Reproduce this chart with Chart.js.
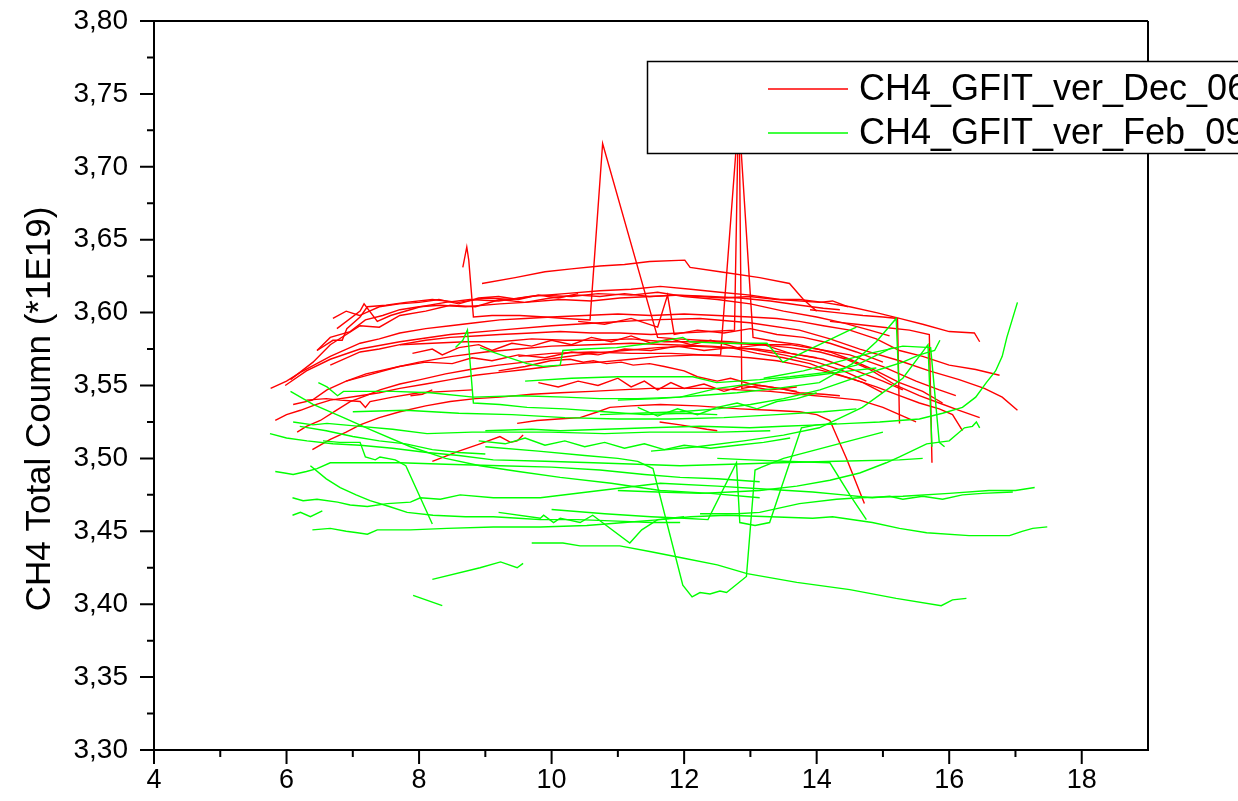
<!DOCTYPE html>
<html><head><meta charset="utf-8">
<script src="https://cdn.jsdelivr.net/npm/chart.js@4/dist/chart.umd.min.js"></script>
<style>html,body{margin:0;padding:0;background:#fff;overflow:hidden}canvas{display:block}</style>
</head><body>
<canvas id="c" width="1238" height="801"></canvas>
<script>
// ---- axis ticks ----
const xTicks = [4, 6, 8, 10, 12, 14, 16, 18];
const xMinorTicks = [5, 7, 9, 11, 13, 15, 17];
const yTicks = [3.30, 3.35, 3.40, 3.45, 3.50, 3.55, 3.60, 3.65, 3.70, 3.75, 3.80];
const yMinorTicks = [3.325, 3.375, 3.425, 3.475, 3.525, 3.575, 3.625, 3.675, 3.725, 3.775];
const yAxisTitle = 'CH4 Total Coumn (*1E19)';
const seriesNames = ['CH4_GFIT_ver_Dec_06', 'CH4_GFIT_ver_Feb_09'];
const seriesColors = ['#ff0000', '#00ff00'];

// ---- CH4_GFIT_ver_Dec_06 daily series: [hour, column] ----
const dec01 = [[8.95,3.620],[9.45,3.624],[9.90,3.628],[10.30,3.630],[10.73,3.632],[11.10,3.633],[11.48,3.635],[12.01,3.636],[12.09,3.631],[12.54,3.628],[13.14,3.624],[13.59,3.620],[13.80,3.609],[14.00,3.601]];
const dec02 = [[6.06,3.554],[6.40,3.566],[6.66,3.578],[7.11,3.591],[7.40,3.590],[7.71,3.598],[8.10,3.601],[8.47,3.605],[8.85,3.604],[9.22,3.609],[9.60,3.607],[9.98,3.610],[10.40,3.612],[10.73,3.611],[11.10,3.613],[11.48,3.611],[11.85,3.612],[12.24,3.611],[12.60,3.610],[12.99,3.611],[13.40,3.609],[13.74,3.609],[14.10,3.607],[14.50,3.604],[14.90,3.600],[15.25,3.596],[15.60,3.592],[16.00,3.587],[16.38,3.586],[16.46,3.580]];
const dec03 = [[5.76,3.548],[6.00,3.553],[6.21,3.559],[6.66,3.570],[7.11,3.579],[7.40,3.582],[7.71,3.586],[8.10,3.589],[8.47,3.591],[8.85,3.593],[9.22,3.595],[9.60,3.596],[10.00,3.597],[10.50,3.598],[11.00,3.599],[11.50,3.598],[12.00,3.599],[12.50,3.598],[13.00,3.597],[13.40,3.596],[13.74,3.594],[14.10,3.591],[14.50,3.588],[14.90,3.582],[15.25,3.574],[15.60,3.570],[16.00,3.564],[16.40,3.561],[16.76,3.557]];
const dec04 = [[5.98,3.550],[6.30,3.560],[6.66,3.568],[7.11,3.575],[7.71,3.580],[8.47,3.585],[9.22,3.588],[10.00,3.591],[10.73,3.593],[11.48,3.595],[12.24,3.596],[12.99,3.593],[13.74,3.588],[14.20,3.582],[14.65,3.575],[15.25,3.567],[15.70,3.560],[16.15,3.554],[16.53,3.548],[16.80,3.542],[17.03,3.533]];
const dec05 = [[8.66,3.631],[8.72,3.645],[8.75,3.636],[8.82,3.597],[9.10,3.598],[9.52,3.598],[9.90,3.597],[10.20,3.596],[10.58,3.595],[10.77,3.716],[11.60,3.583],[11.90,3.582],[12.24,3.581],[12.70,3.580],[13.14,3.578],[13.60,3.576],[14.05,3.573],[14.45,3.568],[14.80,3.561],[15.20,3.550],[15.55,3.543],[15.85,3.538],[16.15,3.533],[16.46,3.528]];
const dec06 = [[6.66,3.564],[7.11,3.573],[7.40,3.575],[7.71,3.578],[8.10,3.581],[8.47,3.583],[8.85,3.584],[9.22,3.585],[9.70,3.586],[10.13,3.587],[10.60,3.586],[11.03,3.586],[11.50,3.585],[11.94,3.586],[12.40,3.587],[12.76,3.588],[12.82,3.740],[13.04,3.583],[13.40,3.580],[13.74,3.578],[14.20,3.573],[14.50,3.568],[14.90,3.560],[15.25,3.552],[15.60,3.546],[15.90,3.538]];
const dec07 = [[9.50,3.570],[10.00,3.572],[10.60,3.573],[11.20,3.572],[11.80,3.572],[12.30,3.571],[12.55,3.571],[12.83,3.740],[12.87,3.548],[13.14,3.550],[13.44,3.548],[13.74,3.545],[14.10,3.544],[14.35,3.543]];
const dec08 = [[5.83,3.526],[6.00,3.530],[6.21,3.533],[6.45,3.537],[6.66,3.540],[7.11,3.543],[7.40,3.545],[7.71,3.548],[8.10,3.551],[8.47,3.554],[8.85,3.557],[9.22,3.559],[9.60,3.561],[9.97,3.563],[10.40,3.565],[10.73,3.566],[11.20,3.568],[11.63,3.570],[12.24,3.571],[12.70,3.570],[12.99,3.569],[13.40,3.567],[13.74,3.564],[14.10,3.560],[14.50,3.555],[14.90,3.549],[15.25,3.543],[15.55,3.538],[15.85,3.534],[16.05,3.530],[16.20,3.519]];
const dec09 = [[6.39,3.506],[6.66,3.513],[6.90,3.518],[7.11,3.523],[7.40,3.528],[7.71,3.532],[8.10,3.536],[8.47,3.539],[8.85,3.541],[9.22,3.542],[9.70,3.544],[10.13,3.545],[10.60,3.546],[11.03,3.547],[11.50,3.548],[11.94,3.548],[12.40,3.548],[12.84,3.547],[13.30,3.546],[13.74,3.544],[14.20,3.542],[14.65,3.540],[15.00,3.535],[15.25,3.530],[15.50,3.525]];
const dec10 = [[6.16,3.518],[6.30,3.522],[6.51,3.526],[6.75,3.533],[6.96,3.539],[7.20,3.543],[7.41,3.547],[7.71,3.551],[8.02,3.554],[8.40,3.558],[8.77,3.561],[9.20,3.564],[9.60,3.566],[10.10,3.569],[10.60,3.572],[11.10,3.574],[11.60,3.576],[12.10,3.577],[12.60,3.576],[13.10,3.575],[13.60,3.572],[14.10,3.568],[14.60,3.560],[15.00,3.553],[15.30,3.547]];
const dec11 = [[9.48,3.524],[9.78,3.526],[10.10,3.527],[10.43,3.528],[10.70,3.532],[10.88,3.535],[11.20,3.536],[11.64,3.537],[12.20,3.536],[12.84,3.534],[13.30,3.533],[13.74,3.532],[14.00,3.530],[14.20,3.526],[14.45,3.500],[14.72,3.469]];
const dec12 = [[6.46,3.574],[6.66,3.583],[6.96,3.587],[7.19,3.595],[7.45,3.598],[7.71,3.602],[8.00,3.604],[8.32,3.605],[8.70,3.604],[9.22,3.606],[9.60,3.607],[10.13,3.609],[10.60,3.608],[11.03,3.610],[11.50,3.611],[11.94,3.612],[12.40,3.611],[12.84,3.610],[13.30,3.608],[13.75,3.605],[14.10,3.603],[14.35,3.602]];
const dec13 = [[6.76,3.589],[7.11,3.601],[7.17,3.606],[7.37,3.594],[7.57,3.598],[8.02,3.604],[8.40,3.607],[8.77,3.609],[9.20,3.608],[9.67,3.611],[10.20,3.613],[10.73,3.615],[11.20,3.616],[11.64,3.618],[12.10,3.616],[12.54,3.614],[13.00,3.612],[13.44,3.609],[14.04,3.607],[14.24,3.608],[14.47,3.604]];
const dec14 = [[7.71,3.578],[8.20,3.579],[8.70,3.580],[9.22,3.580],[9.70,3.582],[10.20,3.581],[10.73,3.581],[11.20,3.582],[11.70,3.580],[12.24,3.580],[12.70,3.579],[13.14,3.578],[13.60,3.578],[14.00,3.575],[14.50,3.571],[15.00,3.563],[15.50,3.553],[15.85,3.547],[16.10,3.543]];
const dec15 = [[13.90,3.602],[14.30,3.600],[14.70,3.598],[15.00,3.597],[15.22,3.596],[15.25,3.524]];
const dec16 = [[14.20,3.594],[14.60,3.592],[15.00,3.590],[15.40,3.588],[15.70,3.585],[15.74,3.497]];
const dec17 = [[7.87,3.543],[8.05,3.544],[8.20,3.547]];
const dec18 = [[8.20,3.498],[8.60,3.505],[8.92,3.510],[9.22,3.515],[9.38,3.511],[9.48,3.512],[9.57,3.516]];
const dec19 = [[9.20,3.560],[9.60,3.563],[9.98,3.567],[10.28,3.568],[10.48,3.566],[10.63,3.567],[10.83,3.565],[11.05,3.566],[11.23,3.564],[11.48,3.565],[11.70,3.563],[12.00,3.560],[12.20,3.556],[12.50,3.553],[12.70,3.555],[13.00,3.551],[13.30,3.549],[13.70,3.546]];
const dec20 = [[11.63,3.525],[11.94,3.523],[12.34,3.520],[12.50,3.519]];
const dec21 = [[6.30,3.540],[6.60,3.541],[6.81,3.540],[7.11,3.539],[7.19,3.535],[7.26,3.539],[7.60,3.542],[8.00,3.545],[8.40,3.546],[8.80,3.547]];
const dec22 = [[6.46,3.574],[6.70,3.581],[6.84,3.581],[6.91,3.589],[7.11,3.597],[7.22,3.604],[7.50,3.605],[7.80,3.607],[8.20,3.609],[8.60,3.607],[9.00,3.610],[9.40,3.609],[9.80,3.612],[10.30,3.611],[10.70,3.613],[11.20,3.612],[11.60,3.614],[12.00,3.611],[12.50,3.609],[13.00,3.606],[13.50,3.601],[14.00,3.597],[14.40,3.593],[14.80,3.588],[15.10,3.584]];
const dec23 = [[6.10,3.537],[6.39,3.540],[6.61,3.547],[6.90,3.553],[7.20,3.558],[7.60,3.562],[8.00,3.566],[8.50,3.570],[9.00,3.573],[9.50,3.575],[10.00,3.577],[10.60,3.578],[11.20,3.579],[11.80,3.578],[12.40,3.577],[13.00,3.575],[13.50,3.571],[14.00,3.566],[14.40,3.560],[14.75,3.553]];
const dec24 = [[7.90,3.572],[8.20,3.575],[8.35,3.571],[8.60,3.576],[8.90,3.578],[9.10,3.574],[9.40,3.579],[9.70,3.577],[10.00,3.581],[10.30,3.578],[10.60,3.583],[10.90,3.580],[11.20,3.584],[11.50,3.579],[11.80,3.582],[12.10,3.578],[12.40,3.581],[12.80,3.576],[13.20,3.578],[13.60,3.572],[14.00,3.569]];
const dec25 = [[6.90,3.553],[7.30,3.558],[7.70,3.563],[8.10,3.566],[8.50,3.565],[8.80,3.569],[9.10,3.567],[9.50,3.571],[9.90,3.569],[10.30,3.573],[10.70,3.571],[11.10,3.575],[11.50,3.574],[11.90,3.577],[12.30,3.574],[12.70,3.576],[13.10,3.572],[13.50,3.569],[13.90,3.565],[14.30,3.558],[14.70,3.552],[15.00,3.545]];
const dec26 = [[9.80,3.552],[10.10,3.549],[10.40,3.553],[10.70,3.550],[11.00,3.555],[11.20,3.549],[11.40,3.553],[11.60,3.547],[11.80,3.552],[12.00,3.548],[12.30,3.551],[12.60,3.546],[12.90,3.550],[13.30,3.547],[13.70,3.549]];
const dec27 = [[6.70,3.596],[6.90,3.601],[7.10,3.598],[7.40,3.604],[7.70,3.606],[8.00,3.607],[8.30,3.609],[8.60,3.606],[8.90,3.610],[9.20,3.611],[9.50,3.609],[9.80,3.612],[10.10,3.610],[10.40,3.613]];
const dec28 = [[10.40,3.594],[10.80,3.592],[11.20,3.596],[11.60,3.590],[11.75,3.612],[11.85,3.585],[12.20,3.588],[12.60,3.586],[13.00,3.589],[13.40,3.585],[13.80,3.583],[14.20,3.579],[14.60,3.573],[15.00,3.566]];

// ---- CH4_GFIT_ver_Feb_09 daily series: [hour, column] ----
const feb01 = [[9.00,3.519],[9.70,3.520],[10.13,3.519],[10.80,3.520],[11.48,3.521],[12.24,3.522],[12.99,3.521],[13.50,3.522],[14.04,3.523],[14.50,3.524],[14.95,3.525],[15.25,3.526],[15.55,3.527],[15.90,3.531],[16.20,3.535],[16.40,3.542],[16.56,3.552],[16.70,3.560],[16.80,3.570],[16.87,3.583],[16.95,3.595],[17.03,3.607]];
const feb02 = [[8.92,3.576],[9.30,3.570],[9.63,3.565],[9.87,3.563],[10.13,3.564],[10.17,3.574],[10.50,3.575],[10.98,3.576],[11.50,3.579],[11.98,3.583],[12.09,3.580],[12.60,3.579],[13.25,3.579],[13.49,3.566],[13.90,3.575],[14.45,3.587],[14.60,3.590]];
const feb03 = [[11.00,3.540],[11.60,3.541],[12.20,3.543],[12.80,3.545],[13.40,3.548],[14.04,3.552],[14.54,3.565],[14.90,3.580],[15.20,3.596],[15.24,3.552]];
const feb04 = [[11.50,3.505],[12.20,3.508],[12.90,3.512],[13.50,3.516],[14.04,3.521],[14.69,3.535],[15.30,3.555],[15.68,3.578],[15.74,3.508]];
const feb05 = [[13.20,3.555],[13.80,3.560],[14.30,3.566],[14.80,3.572],[15.30,3.577],[15.72,3.576],[15.85,3.511],[15.93,3.508]];
const feb06 = [[6.48,3.552],[6.61,3.549],[6.77,3.543],[6.86,3.546],[7.20,3.546],[7.61,3.546],[8.17,3.545],[8.82,3.542],[9.52,3.543],[10.20,3.542],[10.73,3.541],[11.30,3.541],[11.94,3.542],[12.50,3.548],[13.00,3.551],[13.44,3.554],[14.00,3.557],[14.50,3.560],[14.90,3.562]];
const feb07 = [[10.73,3.530],[11.30,3.531],[11.94,3.532],[12.50,3.534],[13.00,3.537],[13.50,3.541],[14.05,3.547],[14.50,3.554],[14.95,3.561],[15.30,3.566],[15.55,3.571],[15.78,3.574],[15.86,3.581]];
const feb08 = [[11.00,3.478],[11.60,3.477],[12.24,3.476],[12.70,3.477],[13.14,3.478],[13.70,3.481],[14.20,3.485],[14.65,3.490],[15.05,3.497],[15.25,3.501],[15.66,3.510],[16.00,3.512],[16.23,3.521],[16.35,3.522],[16.41,3.525],[16.46,3.521]];
const feb09 = [[9.70,3.442],[10.17,3.442],[10.43,3.440],[11.03,3.440],[11.50,3.436],[11.94,3.432],[12.50,3.427],[12.95,3.421],[13.70,3.415],[14.50,3.410],[15.20,3.404],[15.88,3.399],[16.05,3.403],[16.26,3.404]];
const feb10 = [[9.00,3.508],[9.80,3.505],[10.50,3.502],[11.00,3.500],[11.30,3.498],[11.53,3.493],[11.98,3.413],[12.12,3.405],[12.24,3.408],[12.39,3.407],[12.54,3.409],[12.64,3.408],[12.94,3.419],[13.07,3.492],[13.17,3.494],[13.50,3.500],[14.00,3.506],[14.50,3.512],[15.00,3.518]];
const feb11 = [[10.00,3.465],[10.80,3.462],[11.50,3.460],[12.00,3.459],[12.36,3.458],[12.79,3.497],[12.84,3.456],[13.07,3.454],[13.29,3.456],[13.77,3.521],[14.00,3.523],[14.30,3.524]];
const feb12 = [[5.83,3.491],[5.97,3.490],[6.10,3.489],[6.30,3.491],[6.46,3.493],[6.66,3.497],[7.20,3.497],[7.71,3.497],[8.40,3.496],[9.22,3.495],[10.00,3.494],[10.73,3.492],[11.40,3.489],[11.94,3.487],[12.50,3.486],[13.14,3.484]];
const feb13 = [[6.09,3.473],[6.25,3.471],[6.46,3.472],[6.77,3.470],[6.96,3.468],[7.22,3.467],[7.52,3.469],[7.87,3.470],[8.02,3.473],[8.32,3.472],[8.62,3.475],[9.12,3.473],[9.83,3.473],[10.73,3.478],[11.64,3.483],[12.50,3.481],[13.20,3.479],[13.94,3.477],[14.40,3.475],[14.84,3.473],[15.10,3.474],[15.30,3.472],[15.60,3.474],[15.90,3.472],[16.20,3.475],[16.50,3.476],[16.96,3.477]];
const feb14 = [[6.39,3.451],[6.66,3.452],[6.90,3.450],[7.07,3.449],[7.22,3.448],[7.37,3.451],[7.87,3.451],[8.42,3.452],[9.12,3.453],[9.83,3.453],[10.53,3.454],[11.10,3.456],[11.64,3.458],[12.10,3.460],[12.64,3.461],[13.30,3.460],[13.94,3.459],[14.24,3.460],[14.84,3.456],[15.25,3.452],[15.66,3.449],[16.30,3.447],[16.91,3.447],[17.10,3.450],[17.26,3.452],[17.48,3.453]];
const feb15 = [[6.09,3.461],[6.21,3.463],[6.36,3.460],[6.54,3.464]];
const feb16 = [[6.36,3.495],[6.60,3.486],[6.81,3.480],[7.05,3.475],[7.26,3.471],[7.55,3.467],[7.82,3.463],[8.21,3.461],[8.70,3.460],[9.12,3.460],[9.50,3.459],[9.83,3.458],[10.40,3.458],[11.00,3.457],[11.50,3.456],[11.94,3.456]];
const feb17 = [[6.55,3.512],[6.80,3.511],[7.11,3.511],[7.19,3.501],[7.34,3.499],[7.41,3.501],[7.64,3.499],[7.80,3.495],[8.20,3.455]];
const feb18 = [[8.20,3.417],[8.92,3.425],[9.23,3.429],[9.48,3.425],[9.57,3.428]];
const feb19 = [[7.91,3.406],[8.35,3.399]];
const feb20 = [[6.06,3.546],[6.40,3.537],[6.86,3.528],[7.30,3.519],[7.87,3.508],[8.40,3.500],[8.92,3.495],[9.50,3.491],[10.13,3.487],[10.90,3.483],[11.64,3.478],[12.40,3.476],[13.14,3.473]];
const feb21 = [[8.55,3.576],[8.66,3.581],[8.73,3.588],[8.82,3.538],[9.22,3.537],[9.63,3.535],[10.20,3.534],[10.80,3.532],[11.40,3.530],[12.00,3.531],[12.50,3.530]];
const feb22 = [[5.75,3.517],[6.00,3.514],[6.31,3.512],[6.70,3.510],[7.11,3.509],[7.60,3.507],[8.12,3.504],[8.60,3.502],[9.12,3.499],[9.90,3.498],[10.63,3.497],[11.30,3.496],[11.94,3.495],[12.70,3.496],[13.44,3.497],[14.30,3.498],[15.25,3.499],[15.60,3.500]];
const feb23 = [[6.10,3.525],[6.40,3.523],[6.61,3.524],[7.11,3.522],[7.60,3.520],[8.12,3.517],[8.80,3.518],[9.97,3.518],[10.80,3.517],[11.48,3.518],[12.54,3.518],[13.30,3.519]];
const feb24 = [[9.60,3.553],[10.30,3.555],[11.00,3.556],[11.64,3.556],[12.13,3.556],[12.49,3.552],[13.14,3.554],[13.60,3.556],[14.15,3.559],[14.60,3.564],[15.14,3.576]];
const feb25 = [[12.24,3.462],[12.80,3.462],[13.14,3.463],[13.74,3.469],[14.30,3.472],[14.65,3.473],[15.30,3.474],[16.00,3.476],[16.60,3.478],[17.00,3.478],[17.29,3.480]];
const feb26 = [[12.50,3.500],[13.00,3.499],[13.50,3.498],[14.20,3.497],[14.50,3.475],[14.75,3.458]];
const feb27 = [[9.20,3.463],[9.83,3.459],[9.88,3.461],[10.03,3.456],[10.13,3.459],[10.43,3.456],[10.62,3.461],[11.18,3.442],[11.36,3.451],[11.60,3.458],[12.00,3.460]];
const feb28 = [[7.00,3.532],[7.80,3.533],[8.60,3.531],[9.40,3.530],[10.20,3.528],[11.00,3.527],[11.80,3.527],[12.60,3.528],[13.40,3.530],[14.10,3.532],[14.60,3.534]];
const feb29 = [[8.90,3.512],[9.30,3.510],[9.60,3.514],[9.90,3.509],[10.20,3.512],[10.50,3.508],[10.80,3.511],[11.10,3.507],[11.40,3.510],[11.70,3.506],[12.00,3.509],[12.40,3.507],[12.80,3.509],[13.20,3.511],[13.60,3.514]];
const feb30 = [[11.30,3.535],[11.60,3.529],[11.90,3.534],[12.20,3.530],[12.50,3.535],[12.80,3.538],[13.10,3.534],[13.40,3.539],[13.70,3.541],[14.00,3.545]];
const feb31 = [[6.20,3.522],[6.60,3.519],[7.00,3.515],[7.40,3.512],[7.80,3.510],[8.20,3.506],[8.60,3.504],[9.00,3.503]];

const decSeries = [dec01,dec02,dec03,dec04,dec05,dec06,dec07,dec08,dec09,dec10,dec11,dec12,dec13,dec14,dec15,dec16,dec17,dec18,dec19,dec20,dec21,dec22,dec23,dec24,dec25,dec26,dec27,dec28];
const febSeries = [feb01,feb02,feb03,feb04,feb05,feb06,feb07,feb08,feb09,feb10,feb11,feb12,feb13,feb14,feb15,feb16,feb17,feb18,feb19,feb20,feb21,feb22,feb23,feb24,feb25,feb26,feb27,feb28,feb29,feb30,feb31];

const FONT = '"Liberation Sans", Arial, sans-serif';

function mkDataset(arr, color, order) {
  return {
    data: arr.map(p => ({x: p[0], y: p[1]})),
    borderColor: color, backgroundColor: color,
    borderWidth: 1.4, pointRadius: 0, pointHoverRadius: 0,
    fill: false, tension: 0, order: order
  };
}
const datasets = []
  .concat(febSeries.map(s => mkDataset(s, seriesColors[1], 0)))
  .concat(decSeries.map(s => mkDataset(s, seriesColors[0], 1)));

const framePlugin = {
  id: 'frame',
  afterDraw(chart) {
    const ctx = chart.ctx, a = chart.chartArea;
    const xs = chart.scales.x, ys = chart.scales.y;
    ctx.save();
    ctx.strokeStyle = '#000';
    ctx.lineWidth = 2;
    ctx.beginPath();
    ctx.moveTo(a.left, a.top); ctx.lineTo(a.right, a.top);
    ctx.moveTo(a.right, a.top); ctx.lineTo(a.right, a.bottom);
    xTicks.forEach(v => { const p = xs.getPixelForValue(v); ctx.moveTo(p, a.bottom); ctx.lineTo(p, a.bottom + 14); });
    xMinorTicks.forEach(v => { const p = xs.getPixelForValue(v); ctx.moveTo(p, a.bottom); ctx.lineTo(p, a.bottom + 7); });
    yTicks.forEach(v => { const p = ys.getPixelForValue(v); ctx.moveTo(a.left, p); ctx.lineTo(a.left - 14, p); });
    yMinorTicks.forEach(v => { const p = ys.getPixelForValue(v); ctx.moveTo(a.left, p); ctx.lineTo(a.left - 7, p); });
    ctx.stroke();

    // y axis title
    ctx.fillStyle = '#000';
    ctx.font = '35px ' + FONT;
    ctx.textAlign = 'center';
    ctx.textBaseline = 'middle';
    ctx.save();
    ctx.translate(40, 409);
    ctx.rotate(-Math.PI / 2);
    ctx.fillText(yAxisTitle, 0, 0);
    ctx.restore();

    // legend box
    ctx.fillStyle = '#fff';
    ctx.fillRect(647, 61, 700, 92);
    ctx.lineWidth = 1.5;
    ctx.strokeStyle = '#000';
    ctx.strokeRect(647.5, 61.5, 700, 92);
    const rows = [89, 133];
    seriesNames.forEach((name, i) => {
      ctx.strokeStyle = seriesColors[i];
      ctx.lineWidth = 1.5;
      ctx.beginPath(); ctx.moveTo(768, rows[i]); ctx.lineTo(848, rows[i]); ctx.stroke();
      ctx.fillStyle = '#000';
      ctx.font = '36px ' + FONT;
      ctx.textAlign = 'left';
      ctx.textBaseline = 'middle';
      ctx.fillText(name, 859, rows[i] + 1);
    });
    ctx.restore();
  }
};

function noPad(s) { s.paddingTop = 0; s.paddingBottom = 0; s.paddingLeft = 0; s.paddingRight = 0; }

new Chart(document.getElementById('c'), {
  type: 'line',
  data: { datasets },
  options: {
    responsive: false, animation: false, events: [],
    layout: { padding: { top: 21, right: 90, left: 0, bottom: 0 } },
    plugins: { legend: { display: false }, tooltip: { enabled: false }, title: { display: false } },
    scales: {
      x: {
        type: 'linear', min: 4, max: 19,
        afterBuildTicks: s => { s.ticks = xTicks.map(v => ({ value: v })); },
        afterFit: s => { s.height = 51; noPad(s); },
        grid: { display: false, drawTicks: false },
        border: { display: true, color: '#000', width: 2 },
        ticks: { color: '#000', font: { family: FONT, size: 27 }, padding: 14, maxRotation: 0, autoSkip: false,
                 callback: v => String(v) }
      },
      y: {
        type: 'linear', min: 3.30, max: 3.80,
        afterBuildTicks: s => { s.ticks = yTicks.map(v => ({ value: v })); },
        afterFit: s => { s.width = 154; noPad(s); },
        grid: { display: false, drawTicks: false },
        border: { display: true, color: '#000', width: 2 },
        ticks: { color: '#000', font: { family: FONT, size: 28 }, padding: 26, autoSkip: false,
                 callback: v => Number(v).toFixed(2).replace('.', ',') }
      }
    }
  },
  plugins: [framePlugin]
});
</script>
</body></html>
